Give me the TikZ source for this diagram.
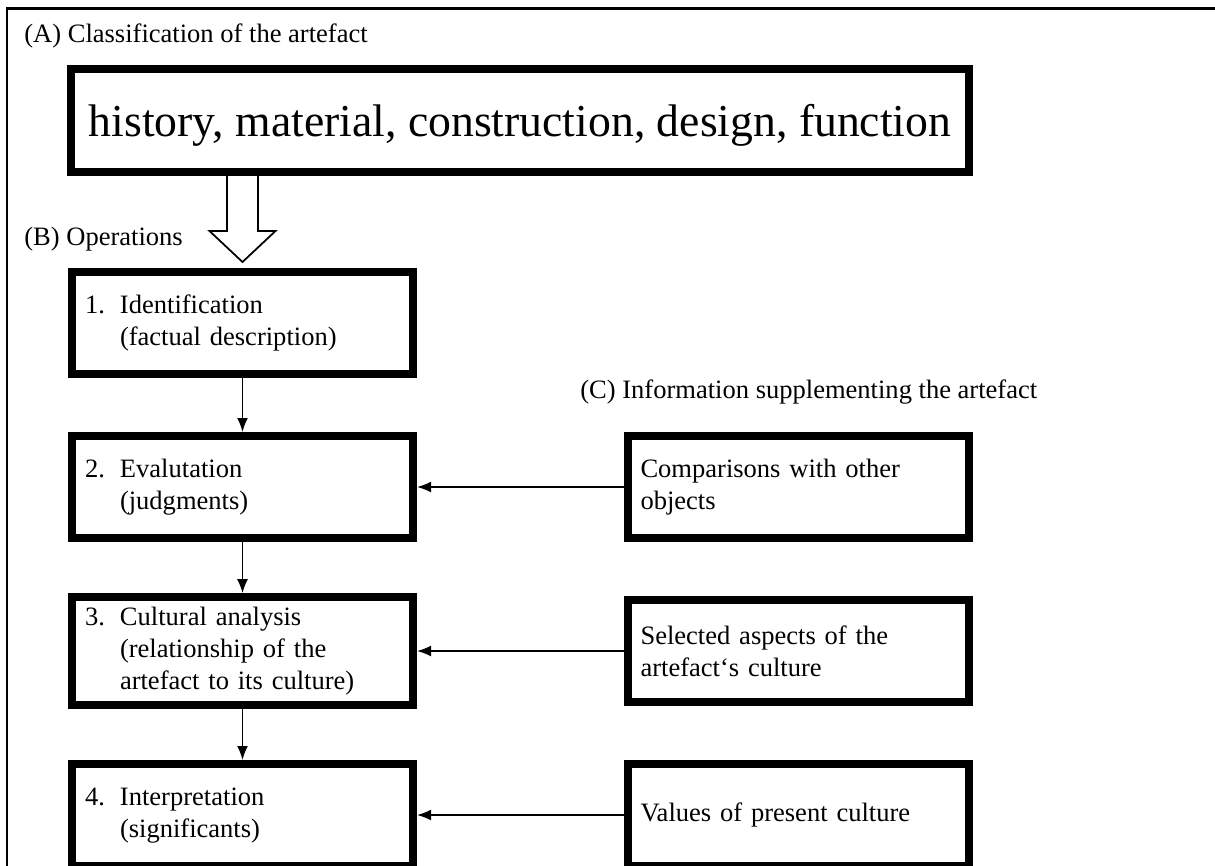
\documentclass[tikz,border=0pt]{standalone}
\usepackage{fontspec}
\setmainfont{Liberation Serif}
\usepackage{tikz}
\usetikzlibrary{positioning}
\usetikzlibrary{arrows.meta}
\newcommand\opstep[2]{\makebox[0.7cm][l]{#1}\begin{tabular}[t]{@{}l@{}}#2\end{tabular}}
\tikzset{
  textfont/.style={font=\fontsize{15.1}{18.2}\selectfont},
  parttitle/.style={textfont, anchor=base west, inner sep=0pt},
  opbox/.style={rectangle, draw, line width=0.16cm, textfont, text width=6.30cm, inner xsep=0.26cm, minimum height=2.04cm, align=left},
  link/.style={-{Latex[length=0.28cm, width=0.22cm]}, line width=0.035cm}
}

\begin{document}
\begin{tikzpicture}
    \useasboundingbox (0cm, 0cm) rectangle (24.3cm, -17.32cm);
    \clip (0cm, 0cm) rectangle (24.3cm, -17.32cm);
    \draw[line width=0.045cm] (0.14cm, -18cm) |- (25cm, -0.17cm);

    \node[parttitle] (classtitle) at (0.48cm, -0.86cm) {(A) Classification of the artefact};
    \node[rectangle, draw, line width=0.16cm, minimum width=17.96cm, minimum height=2.06cm, text depth=0pt, font=\fontsize{26}{31}\selectfont] (classes) at (10.4cm, -2.41cm) {history, material, construction, design, function};

    \node[parttitle] (optitle) at (0.48cm, -4.9cm) {(B) Operations};
    \node[opbox] (ident) at (4.85cm, -6.46cm) {\opstep{1.}{Identification\\(factual description)}};
    \node[below of=ident, node distance=3.28cm, opbox] (eval) {\opstep{2.}{Evalutation\\(judgments)}};
    \node[below of=eval, node distance=3.28cm, opbox] (analysis) {\opstep{3.}{Cultural analysis\\(relationship of the\\artefact to its culture)}};
    \node[below of=analysis, node distance=3.28cm, opbox] (interp) {\opstep{4.}{Interpretation\\(significants)}};

    \node[parttitle] (infotitle) at (11.6cm, -7.96cm) {(C) Information supplementing the artefact};
    \node[right of=eval, node distance=11.11cm, opbox] (compare) {Comparisons with other\\objects};
    \node[right of=analysis, node distance=11.11cm, opbox] (aspects) {Selected aspects of the\\artefact‘s culture};
    \node[right of=interp, node distance=11.11cm, opbox] (values) {Values of present culture};

    % hollow arrow from the classification down to the operations
    \draw[line width=0.035cm] (classes.south -| ident.north) ++(-0.31cm, 0cm) -- ++(0cm, -1.10cm) -- ++(-0.35cm, 0cm)
      -- ++(0.66cm, -0.62cm) -- ++(0.66cm, 0.62cm) -- ++(-0.35cm, 0cm) -- ++(0cm, 1.10cm);

    \draw[link] (ident) -- (eval);
    \draw[link] (eval) -- (analysis);
    \draw[link] (analysis) -- (interp);
    \draw[link] (compare) -- (eval);
    \draw[link] (aspects) -- (analysis);
    \draw[link] (values) -- (interp);
\end{tikzpicture}
\end{document}
